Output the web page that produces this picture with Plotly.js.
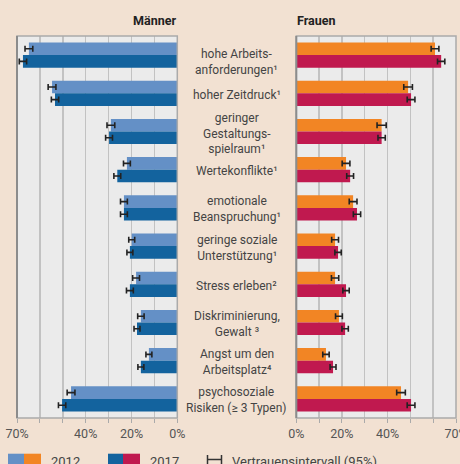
<!DOCTYPE html>
<html><head><meta charset="utf-8">
<script src="https://cdn.plot.ly/plotly-3.0.1.min.js"></script>
<style>html,body{margin:0;padding:0;background:#f2e1d2;}#chart{width:460px;height:464px;}</style>
</head><body><div id="chart"></div>
<script>
const categories = [
  "hohe Arbeits-<br>anforderungen¹",
  "hoher Zeitdruck¹",
  "geringer<br>Gestaltungs-<br>spielraum¹",
  "Wertekonflikte¹",
  "emotionale<br>Beanspruchung¹",
  "geringe soziale<br>Unterstützung¹",
  "Stress erleben²",
  "Diskriminierung,<br>Gewalt ³",
  "Angst um den<br>Arbeitsplatz⁴",
  "psychosoziale<br>Risiken (≥ 3 Typen)"
];
const men2012   = [64.8, 54.7, 29.0, 22.0, 23.3, 19.9, 18.0, 15.9, 12.4, 46.4];
const men2017   = [67.4, 53.4, 29.8, 26.2, 23.3, 20.7, 20.7, 17.6, 15.9, 50.3];
const women2012 = [60.8, 49.0, 37.4, 21.8, 24.9, 17.0, 17.0, 18.7, 13.0, 45.9];
const women2017 = [63.5, 50.3, 37.4, 23.6, 26.6, 18.3, 21.8, 21.4, 16.1, 50.3];
const menErr2012   = [1.7, 1.7, 1.7, 1.5, 1.5, 1.3, 1.5, 1.4, 1.3, 1.7];
const menErr2017   = [1.6, 1.6, 1.5, 1.5, 1.5, 1.3, 1.5, 1.3, 1.3, 1.6];
const womenErr2012 = [1.7, 1.9, 2.0, 1.7, 1.7, 1.5, 1.6, 1.5, 1.4, 1.9];
const womenErr2017 = [1.6, 1.7, 1.6, 1.5, 1.6, 1.4, 1.4, 1.4, 1.3, 1.7];
const tickVals = [0, 10, 20, 30, 40, 50, 60, 70];
const tickText = ["0%", "", "20%", "", "40%", "", "", "70%"];
const years = ["2012", "2017"];

const C = {m12:"#6490c6", m17:"#13639e", w12:"#f28524", w17:"#c0194f"};
const FONT = "Roboto, 'Open Sans', sans-serif";
const idx = categories.map((_, i) => i);

function bar(vals, errs, color, xa, name) {
  return {
    type: "bar", orientation: "h", y: idx, x: vals, name: name,
    xaxis: xa, yaxis: "y",
    marker: {color: color, line: {width: 0}},
    error_x: {type: "data", array: errs, visible: true, color: "#222", thickness: 1.6, width: 3},
    hoverinfo: "skip", showlegend: false
  };
}
const data = [
  bar(men2012, menErr2012, C.m12, "x", years[0]),
  bar(men2017, menErr2017, C.m17, "x", years[1]),
  bar(women2012, womenErr2012, C.w12, "x2", years[0]),
  bar(women2017, womenErr2017, C.w17, "x2", years[1])
];

const W = 460, H = 464;
const px = v => v / W, py = v => (H - v) / H;
const axisCommon = {
  tickvals: tickVals, ticktext: tickText, showgrid: true, gridcolor: "#c2c2c2", gridwidth: 1.5,
  zeroline: false, ticks: "outside", ticklen: 4, tickcolor: "#aaa", tickwidth: 1,
  tickfont: {family: FONT, size: 12.5, color: "#555"}, showline: false, fixedrange: true,
  anchor: "y", ticklabeloverflow: "allow"
};
const layout = {
  width: W, height: H, margin: {l: 0, r: 0, t: 0, b: 0},
  paper_bgcolor: "#f2e1d2", plot_bgcolor: "#ebebeb",
  barmode: "group", bargap: 0.34, bargroupgap: 0,
  xaxis: Object.assign({}, axisCommon, {domain: [px(17), px(177.3)], range: [70, 0]}),
  xaxis2: Object.assign({}, axisCommon, {domain: [px(296.3), px(456)], range: [0, 70]}),
  yaxis: {domain: [py(418), py(36)], range: [9.5, -0.5], showticklabels: false, showgrid: false,
          zeroline: false, ticks: "", fixedrange: true},
  annotations: [],
  shapes: []
};
// category labels
categories.forEach((c, i) => {
  layout.annotations.push({xref: "paper", yref: "y", x: px(236.7), y: i, text: c, showarrow: false,
    xanchor: "center", yanchor: "middle", align: "center", yshift: i === 0 ? -7 : -1.5,
    font: {family: FONT, size: 12, color: "#444"}});
});
// panel titles
layout.annotations.push({xref: "paper", yref: "paper", x: px(177.5), y: py(20), text: "<b>Männer</b>",
  showarrow: false, xanchor: "right", yanchor: "middle", font: {family: FONT, size: 12.5, color: "#222"}});
layout.annotations.push({xref: "paper", yref: "paper", x: px(295), y: py(20), text: "<b>Frauen</b>",
  showarrow: false, xanchor: "left", yanchor: "middle", font: {family: FONT, size: 12.5, color: "#222"}});
// frames
[["x domain"], ["x2 domain"]].forEach(([xr]) => {
  layout.shapes.push({type: "rect", xref: xr, yref: "y domain", x0: 0, x1: 1, y0: 0, y1: 1,
    line: {color: "#aaaaaa", width: 1.5}, fillcolor: "rgba(0,0,0,0)", layer: "above"});
  layout.shapes.push({type: "line", xref: xr, yref: "y domain", x0: 0, x1: 0, y0: 0, y1: 1,
    line: {color: "#8c8c8c", width: 2}, layer: "above"});
});
// legend
function rect(x0, x1, col) {
  layout.shapes.push({type: "rect", xref: "paper", yref: "paper", x0: px(x0), x1: px(x1),
    y0: py(470), y1: py(453.7), line: {width: 0}, fillcolor: col});
}
rect(8, 24, C.m12); rect(24, 41, C.w12);
rect(108, 123, C.m17); rect(123, 140, C.w17);
const lg = {color: "#333", width: 1.5};
layout.shapes.push({type: "line", xref: "paper", yref: "paper", x0: px(207), x1: px(222), y0: py(459.5), y1: py(459.5), line: lg});
layout.shapes.push({type: "line", xref: "paper", yref: "paper", x0: px(207.5), x1: px(207.5), y0: py(455), y1: py(466), line: lg});
layout.shapes.push({type: "line", xref: "paper", yref: "paper", x0: px(221.5), x1: px(221.5), y0: py(455), y1: py(466), line: lg});
[[49, years[0]], [148, years[1]], [230, "Vertrauensintervall (95%)"]].forEach(([x, t]) => {
  layout.annotations.push({xref: "paper", yref: "paper", x: px(x), y: py(461), text: t, showarrow: false,
    xanchor: "left", yanchor: "middle", font: {family: FONT, size: 13, color: "#444"}});
});
Plotly.newPlot("chart", data, layout, {staticPlot: true, displayModeBar: false});
</script></body></html>
